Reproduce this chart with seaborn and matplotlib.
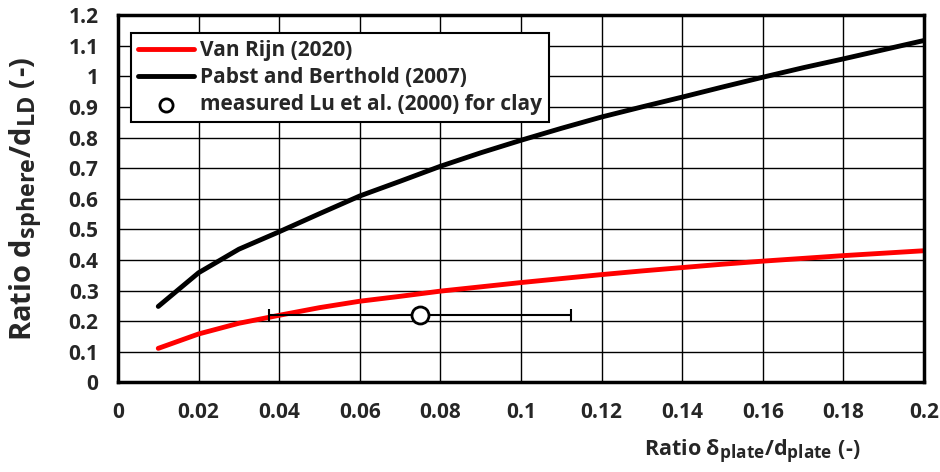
import numpy as np
import pandas as pd
import matplotlib
matplotlib.use("Agg")
import matplotlib.pyplot as plt
import matplotlib._mathtext as mathtext_mod
import seaborn as sns

# ratio delta_plate / d_plate
ratio_x = [0.01, 0.02, 0.03, 0.04, 0.05, 0.06, 0.07, 0.08, 0.09, 0.10,
           0.11, 0.12, 0.13, 0.14, 0.15, 0.16, 0.17, 0.18, 0.19, 0.20]
van_rijn = [0.111, 0.158, 0.193, 0.219, 0.244, 0.265, 0.281, 0.298, 0.312, 0.326,
            0.339, 0.352, 0.364, 0.375, 0.386, 0.396, 0.405, 0.414, 0.422, 0.430]
pabst = [0.248, 0.358, 0.435, 0.492, 0.551, 0.609, 0.657, 0.706, 0.750, 0.791,
         0.830, 0.867, 0.900, 0.932, 0.965, 0.997, 1.028, 1.057, 1.087, 1.117]

# measured Lu et al. (2000)
meas_x = [0.075]
meas_y = [0.22]
meas_xerr = [0.0375]

xticks = [0, 0.02, 0.04, 0.06, 0.08, 0.1, 0.12, 0.14, 0.16, 0.18, 0.2]
xtick_labels = ['0', '0.02', '0.04', '0.06', '0.08', '0.1', '0.12', '0.14', '0.16', '0.18', '0.2']
yticks = [0, 0.1, 0.2, 0.3, 0.4, 0.5, 0.6, 0.7, 0.8, 0.9, 1.0, 1.1, 1.2]
ytick_labels = ['0', '0.1', '0.2', '0.3', '0.4', '0.5', '0.6', '0.7', '0.8', '0.9', '1', '1.1', '1.2']

sns.set_style("white")
plt.rcParams['font.family'] = ['Open Sans', 'DejaVu Sans']
plt.rcParams['font.weight'] = 'bold'
plt.rcParams['mathtext.fontset'] = 'custom'
plt.rcParams['mathtext.rm'] = 'Open Sans:bold'
plt.rcParams['mathtext.it'] = 'Open Sans:bold'
plt.rcParams['mathtext.bf'] = 'Open Sans:bold'
# Excel-style subscripts are a bit larger than mathtext default
mathtext_mod.SHRINK_FACTOR = 0.8

df = pd.DataFrame({'x': ratio_x, 'Van Rijn (2020)': van_rijn,
                   'Pabst and Berthold (2007)': pabst})

fig, ax = plt.subplots(figsize=(9.4, 4.72), dpi=100)
fig.subplots_adjust(left=0.1255, right=0.983, top=0.968, bottom=0.19)

sns.lineplot(data=df, x='x', y='Van Rijn (2020)', color='#ff0000', linewidth=3.5,
             label='Van Rijn (2020)', ax=ax)
sns.lineplot(data=df, x='x', y='Pabst and Berthold (2007)', color='black', linewidth=3.5,
             label='Pabst and Berthold (2007)', ax=ax)
ax.errorbar(meas_x, meas_y, xerr=meas_xerr, fmt='none', ecolor='black',
            elinewidth=1.5, capsize=4, capthick=1.5)
sns.scatterplot(x=meas_x, y=meas_y, marker='o', s=150, facecolor='white',
                edgecolor='black', linewidth=2, zorder=5,
                label='measured Lu et al. (2000) for clay', ax=ax)

ax.set_xlim(0, 0.2)
ax.set_ylim(0, 1.2)
ax.set_xticks(xticks)
ax.set_xticklabels(xtick_labels)
ax.set_yticks(yticks)
ax.set_yticklabels(ytick_labels)
ax.tick_params(length=0, labelsize=15, pad=14)
ax.grid(True, color='black', linewidth=1.0)
for sp in ax.spines.values():
    sp.set_color('black')
    sp.set_linewidth(2.5)

ax.set_xlabel('Ratio δ$_\\mathrm{plate}$/d$_\\mathrm{plate}$ (-)', fontsize=15.5, fontweight='bold')
ax.set_ylabel('Ratio d$_\\mathrm{sphere}$/d$_\\mathrm{LD}$ (-)', fontsize=21, fontweight='bold')
ax.xaxis.set_label_coords(0.787, -0.15)
ax.yaxis.set_label_coords(-0.09, 0.5)

leg = ax.legend(loc='upper left', bbox_to_anchor=(0.016, 0.951), fontsize=15,
                frameon=True, fancybox=False, borderaxespad=0, handlelength=2.7,
                handletextpad=0.25, labelspacing=0.28, borderpad=0.35)
leg.get_frame().set_edgecolor('black')
leg.get_frame().set_linewidth(1.5)
leg.get_frame().set_alpha(1)
leg.legend_handles[2].set_sizes([90])

fig.savefig('out.png', dpi=100)
